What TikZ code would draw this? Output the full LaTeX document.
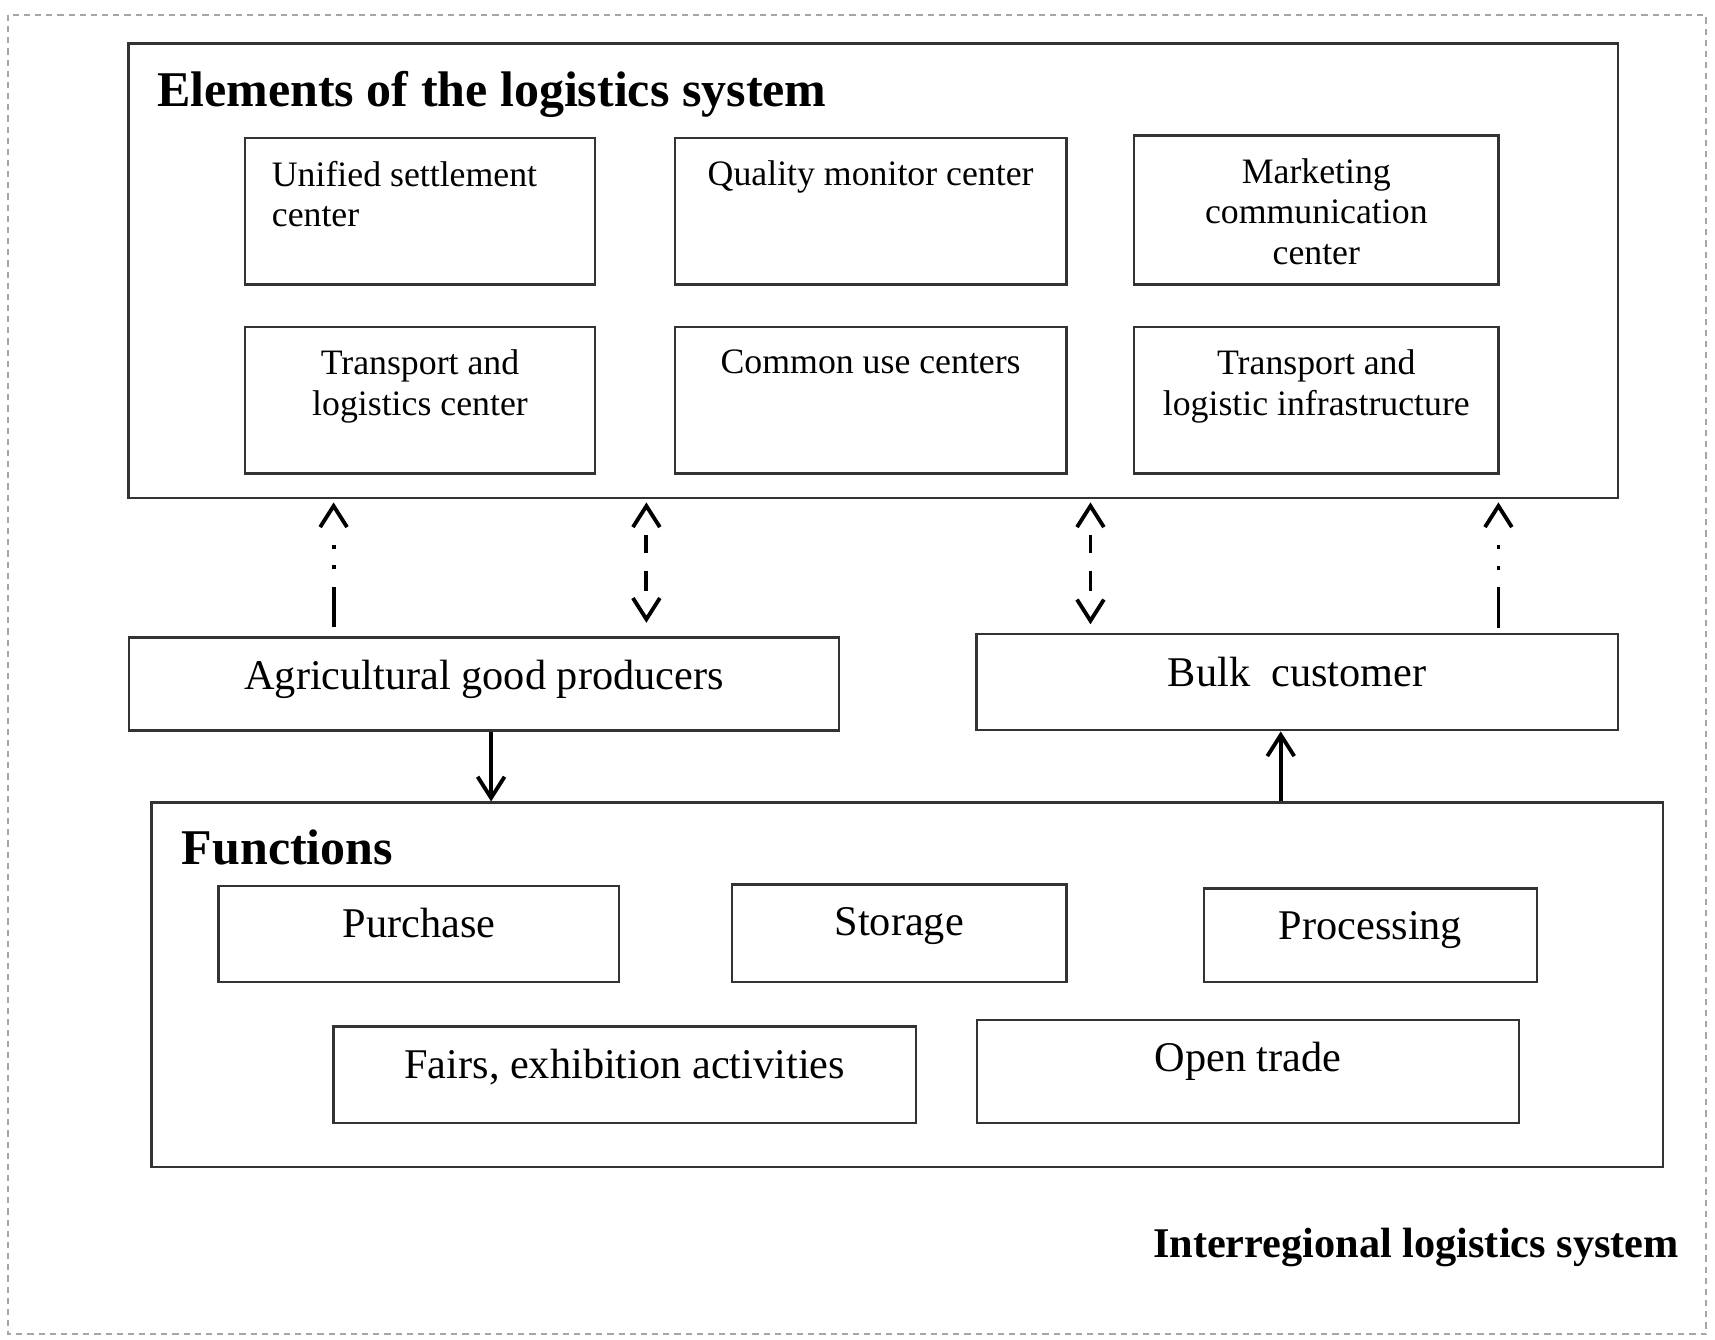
\documentclass[tikz,border=0pt]{standalone}
\usepackage{fontspec}
\setmainfont{Liberation Serif}
\usetikzlibrary{arrows.meta}

\begin{document}
\begin{tikzpicture}[x=0.01cm, y=-0.01cm,
    box/.style={draw=black!80, line width=0.6pt, inner sep=0pt},
    elemtext/.style={anchor=north, inner sep=0pt, yshift=-0.215cm, align=center, font=\fontsize{9.3}{10.5}\selectfont},
    functext/.style={anchor=north, inner sep=0pt, yshift=-0.21cm, align=center, font=\fontsize{11}{13}\selectfont},
    link/.style={line width=1pt, {Straight Barb[length=5.5pt,width=7pt]}-{Straight Barb[length=5.5pt,width=7pt]}},
    uplink/.style={line width=1pt, -{Straight Barb[length=5.5pt,width=7pt]}},
    dotlink/.style={uplink, dash pattern=on 10.5pt off 4.6pt on 1pt off 4.4pt on 1pt off 30pt},
    dashlink/.style={link, dash pattern=on 4.6pt off 4.7pt on 5.2pt off 37pt, dash phase=44.5pt}]
    \useasboundingbox (0,0) rectangle (1568,1225);
    % Outer frame
    \draw[black!35, line width=0.5pt, dash pattern=on 1.6pt off 1.3pt] (7.6,13.7) rectangle (1559.7,1220);

    % Elements of the logistics system
    \node[box, minimum width=13.61cm, minimum height=4.15cm] (elem) at (798.5,247.5) {};
    \node[anchor=base west, inner sep=0pt, font=\fontsize{13}{15}\selectfont\bfseries] (elemtitle) at (143,97) {Elements of the logistics system};
    \node[box, minimum width=3.2cm, minimum height=1.34cm, label={[elemtext, anchor=north west, xshift=0.25cm, align=left]north west:Unified settlement\\center}] (unified) at (384,193) {};
    \node[box, minimum width=3.58cm, minimum height=1.34cm, label={[elemtext]north:Quality monitor center}] (quality) at (796,193) {};
    \node[box, minimum width=3.33cm, minimum height=1.36cm, label={[elemtext]north:Marketing\\communication\\center}] (marketing) at (1203.5,192) {};
    \node[box, minimum width=3.2cm, minimum height=1.34cm, label={[elemtext]north:Transport and\\logistics center}] (tlcenter) at (384,366) {};
    \node[box, minimum width=3.58cm, minimum height=1.34cm, label={[elemtext]north:Common use centers}] (common) at (796,366) {};
    \node[box, minimum width=3.33cm, minimum height=1.34cm, label={[elemtext]north:Transport and\\logistic infrastructure}] (infra) at (1203.5,366) {};

    % Participants
    \node[box, minimum width=6.49cm, minimum height=0.85cm, label={[functext]north:Agricultural good producers}] (agri) at (442.5,625.3) {};
    \node[box, minimum width=5.86cm, minimum height=0.877cm, label={[functext]north:Bulk\ \ customer}] (bulk) at (1186,623.8) {};

    % Functions
    \node[box, minimum width=13.81cm, minimum height=3.327cm] (func) at (829.5,900.3) {};
    \node[anchor=base west, inner sep=0pt, font=\fontsize{13}{15}\selectfont\bfseries] (functitle) at (165.6,790.4) {Functions};
    \node[box, minimum width=3.66cm, minimum height=0.88cm, label={[functext]north:Purchase}] (purchase) at (383,854) {};
    \node[box, minimum width=3.055cm, minimum height=0.89cm, label={[functext]north:Storage}] (storage) at (822.2,853.3) {};
    \node[box, minimum width=3.045cm, minimum height=0.855cm, label={[functext]north:Processing}] (processing) at (1253,855.1) {};
    \node[box, minimum width=5.325cm, minimum height=0.885cm, label={[functext]north:{Fairs, exhibition activities}}] (fairs) at (571.2,982.7) {};
    \node[box, minimum width=4.955cm, minimum height=0.946cm, label={[functext]north:Open trade}] (opentrade) at (1141,979.7) {};

    \node[anchor=base east, inner sep=0pt, font=\fontsize{11}{13}\selectfont\bfseries] (system) at (1535.6,1150) {Interregional logistics system};

    % Links to the elements box
    \coordinate (l1) at (305,0);
    \coordinate (l2) at (591,0);
    \coordinate (l3) at (997,0);
    \coordinate (l4) at (1370,0);
    \draw[dotlink, shorten <=2.3pt, shorten >=0.9pt] (agri.north -| l1) -- (elem.south -| l1);
    \draw[dashlink, shorten <=0.9pt, shorten >=3.5pt] (elem.south -| l2) -- (agri.north -| l2);
    \draw[dashlink, shorten <=0.9pt, shorten >=2.3pt] (elem.south -| l3) -- (bulk.north -| l3);
    \draw[dotlink, shorten <=1.4pt, shorten >=0.9pt] (bulk.north -| l4) -- (elem.south -| l4);

    % Flow through the functions
    \coordinate (f1) at (449,0);
    \coordinate (f2) at (1171,0);
    \draw[uplink] (agri.south -| f1) -- (func.north -| f1);
    \draw[uplink] (func.north -| f2) -- (bulk.south -| f2);
\end{tikzpicture}
\end{document}
